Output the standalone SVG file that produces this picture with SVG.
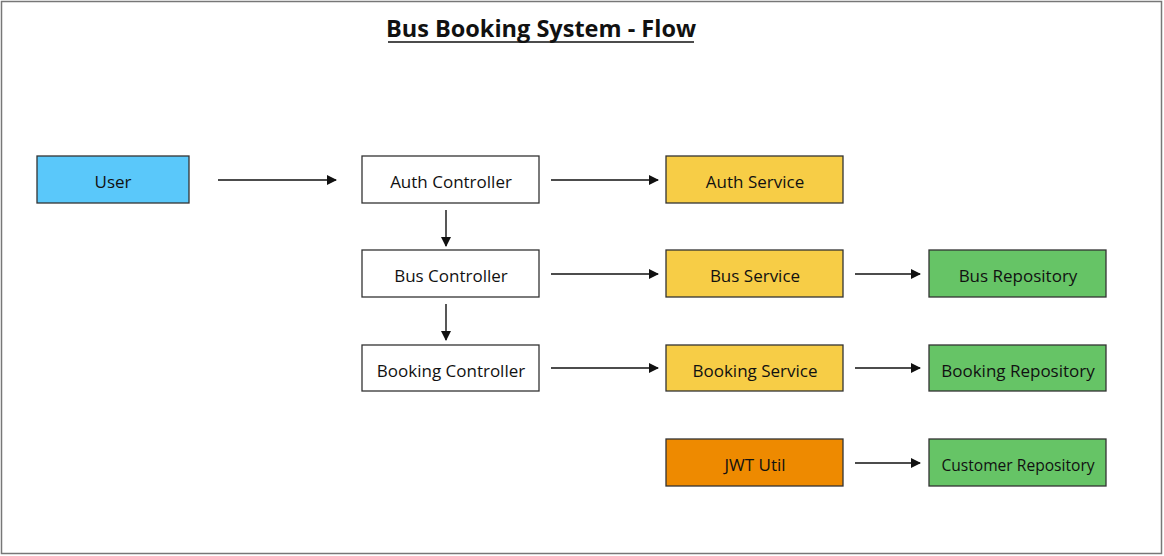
<svg xmlns="http://www.w3.org/2000/svg" width="1164" height="556" viewBox="0 0 1164 556">
<style>
.n{stroke:#333;stroke-width:1.3}
.t{font-family:"Open Sans","Liberation Sans",sans-serif;font-size:17px;fill:#111;text-anchor:middle}
.c{stroke:#111;stroke-width:1.4;fill:none;marker-end:url(#ah)}
</style>
<defs>
<marker id="ah" markerWidth="10" markerHeight="10" refX="9" refY="5" orient="auto" markerUnits="userSpaceOnUse">
<path d="M0,0 L10,5 L0,10 Z" fill="#111"/>
</marker>
</defs>
<rect x="0" y="0" width="1164" height="556" fill="#fff"/>
<rect x="1.5" y="1.5" width="1160" height="552" fill="none" stroke="#777" stroke-width="1.5"/>
<g id="title">
<text x="541" y="37" style="font-family:'Open Sans','Liberation Sans',sans-serif;font-size:23.5px;font-weight:bold;fill:#111;text-anchor:middle">Bus Booking System - Flow</text>
<line x1="388" y1="42" x2="694" y2="42" stroke="#111" stroke-width="1.6"/>
</g>
<g id="connectors">
<line class="c" x1="218" y1="180" x2="336" y2="180"/>
<line class="c" x1="551" y1="180" x2="658" y2="180"/>
<line class="c" x1="551" y1="274" x2="658" y2="274"/>
<line class="c" x1="551" y1="368" x2="658" y2="368"/>
<line class="c" x1="855" y1="274" x2="920" y2="274"/>
<line class="c" x1="855" y1="368" x2="920" y2="368"/>
<line class="c" x1="855" y1="463" x2="920" y2="463"/>
<line class="c" x1="446" y1="210" x2="446" y2="246"/>
<line class="c" x1="446" y1="304" x2="446" y2="340"/>
</g>
<g id="user"><rect class="n" x="37" y="156" width="152" height="47" fill="#5AC8FA"/><text class="t" x="113" y="188">User</text></g>
<g id="auth-controller"><rect class="n" x="362" y="156" width="177" height="47" fill="#fff"/><text class="t" x="451" y="188">Auth Controller</text></g>
<g id="auth-service"><rect class="n" x="666" y="156" width="177" height="47" fill="#F7CD46"/><text class="t" x="755" y="188">Auth Service</text></g>
<g id="bus-controller"><rect class="n" x="362" y="250" width="177" height="47" fill="#fff"/><text class="t" x="451" y="282">Bus Controller</text></g>
<g id="bus-service"><rect class="n" x="666" y="250" width="177" height="47" fill="#F7CD46"/><text class="t" x="755" y="282">Bus Service</text></g>
<g id="bus-repository"><rect class="n" x="929" y="250" width="177" height="47" fill="#66C466"/><text class="t" x="1018" y="282">Bus Repository</text></g>
<g id="booking-controller"><rect class="n" x="362" y="345" width="177" height="46" fill="#fff"/><text class="t" x="451" y="377">Booking Controller</text></g>
<g id="booking-service"><rect class="n" x="666" y="345" width="177" height="46" fill="#F7CD46"/><text class="t" x="755" y="377">Booking Service</text></g>
<g id="booking-repository"><rect class="n" x="929" y="345" width="177" height="46" fill="#66C466"/><text class="t" x="1018" y="377">Booking Repository</text></g>
<g id="jwt-util"><rect class="n" x="666" y="439" width="177" height="47" fill="#EE8A00"/><text class="t" x="755" y="471">JWT Util</text></g>
<g id="customer-repository"><rect class="n" x="929" y="439" width="177" height="47" fill="#66C466"/><text class="t" x="1018" y="471" style="font-size:15.6px">Customer Repository</text></g>
</svg>
